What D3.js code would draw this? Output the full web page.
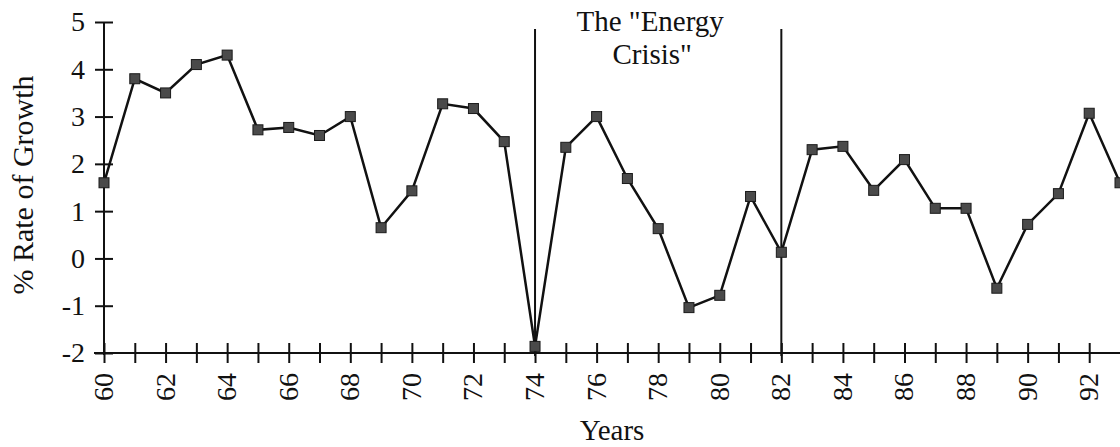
<!DOCTYPE html>
<meta charset="utf-8">
<style>
  body { margin: 0; background: #fff; }
  text { font-family: "Liberation Serif", "Times New Roman", serif; fill: #111; }
  .axis path, .axis line { stroke: #111; stroke-width: 2; }
</style>
<svg width="1120" height="447"></svg>
<script src="https://cdnjs.cloudflare.com/ajax/libs/d3/7.8.5/d3.min.js"></script>
<script>
var width = 1120, height = 447;

// data
var years = [60, 61, 62, 63, 64, 65, 66, 67, 68, 69, 70, 71, 72, 73, 74, 75, 76,
             77, 78, 79, 80, 81, 82, 83, 84, 85, 86, 87, 88, 89, 90, 91, 92, 93];
var growth = [1.6, 3.8, 3.5, 4.1, 4.3, 2.72, 2.77, 2.6, 3.0, 0.65, 1.43, 3.27, 3.17, 2.47, -1.86, 2.35, 3.0,
              1.69, 0.63, -1.04, -0.78, 1.31, 0.13, 2.3, 2.37, 1.44, 2.09, 1.06, 1.06, -0.63, 0.72, 1.37, 3.07, 1.6];
var yTicks = [-2, -1, 0, 1, 2, 3, 4, 5];
var xLabelYears = [60, 62, 64, 66, 68, 70, 72, 74, 76, 78, 80, 82, 84, 86, 88, 90, 92];
var crisisYears = [74, 82];

var svg = d3.select("svg");

var x = d3.scaleLinear().domain([60, 93]).range([104, 1120]);
var y = d3.scaleLinear().domain([-2, 5]).range([353, 22]);

// y axis with ticks crossing the line
var yAxis = svg.append("g")
    .attr("class", "axis")
    .attr("transform", "translate(" + x(60) + ",0)")
    .call(d3.axisLeft(y).tickValues(yTicks).tickSize(9).tickPadding(10)
      .tickFormat(function(d) { return String(d); }));
yAxis.select(".domain").attr("d", "M0," + y(5) + "V" + (y(-2) + 2));
yAxis.selectAll(".tick line").attr("x1", 9);
yAxis.selectAll(".tick text").attr("font-size", 28).attr("font-family", "Liberation Serif");

// x axis: tick every year, label every second year
var xAxis = svg.append("g")
    .attr("class", "axis")
    .attr("transform", "translate(0," + y(-2) + ")")
    .call(d3.axisBottom(x).tickValues(years.filter(function(d) { return d < 93; }))
      .tickSize(10).tickFormat(""));
xAxis.select(".domain").attr("d", "M" + (x(60) - 10) + ",0H" + width);
xAxis.selectAll(".tick line").attr("y1", -10);

svg.append("g")
  .selectAll("text")
  .data(xLabelYears)
  .enter()
  .append("text")
    .attr("transform", function(d) { return "translate(" + (x(d) + 9) + "," + (y(-2) + 20) + ") rotate(-90)"; })
    .attr("text-anchor", "end")
    .attr("font-size", 28)
    .text(function(d) { return d; });

// energy crisis markers
svg.append("g")
  .selectAll("line")
  .data(crisisYears)
  .enter()
  .append("line")
    .attr("x1", function(d) { return x(d); })
    .attr("x2", function(d) { return x(d); })
    .attr("y1", 29)
    .attr("y2", y(-2) + 3)
    .attr("stroke", "#111")
    .attr("stroke-width", 2);

var note = svg.append("text")
    .attr("text-anchor", "middle")
    .attr("font-size", 29);
note.append("tspan").attr("x", (x(74) + x(82)) / 2 - 8).attr("y", 31).text("The \"Energy");
note.append("tspan").attr("x", (x(74) + x(82)) / 2 - 6).attr("y", 64).text("Crisis\"");

// series
var line = d3.line()
    .x(function(d, i) { return x(years[i]); })
    .y(function(d) { return y(d); });

svg.append("path")
    .datum(growth)
    .attr("d", line)
    .attr("fill", "none")
    .attr("stroke", "#111")
    .attr("stroke-width", 2.5);

svg.append("g")
  .selectAll("rect")
  .data(growth)
  .enter()
  .append("rect")
    .attr("x", function(d, i) { return x(years[i]) - 5; })
    .attr("y", function(d) { return y(d) - 5; })
    .attr("width", 10)
    .attr("height", 10)
    .attr("fill", "#4a4a4a")
    .attr("stroke", "#1a1a1a")
    .attr("stroke-width", 1);

// axis titles
svg.append("text")
    .attr("x", 612)
    .attr("y", 440)
    .attr("text-anchor", "middle")
    .attr("font-size", 29)
    .text("Years");

svg.append("text")
    .attr("transform", "translate(33,185) rotate(-90)")
    .attr("text-anchor", "middle")
    .attr("font-size", 30)
    .text("% Rate of Growth");
</script>
